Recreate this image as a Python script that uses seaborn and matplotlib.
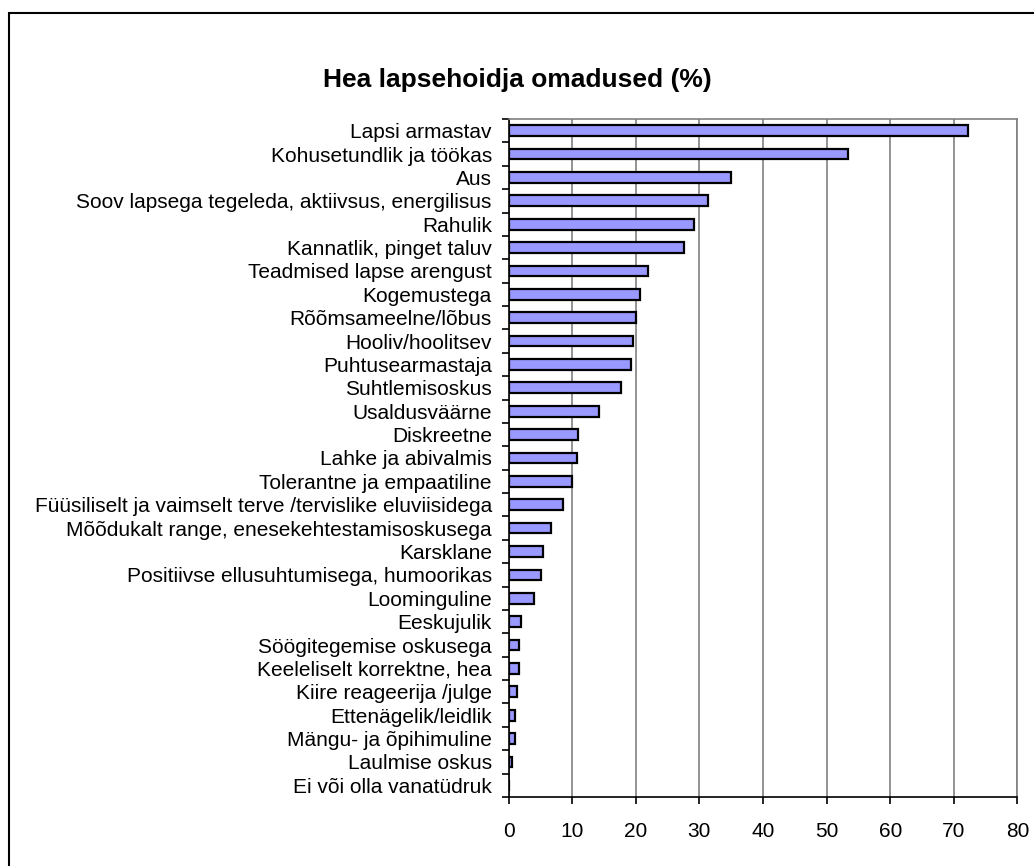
"""
Hea lapsehoidja omadused (%) - horizontal bar chart
"""
import numpy as np
import pandas as pd
import matplotlib
matplotlib.use("Agg")
import matplotlib.pyplot as plt
from matplotlib.patches import Rectangle
from matplotlib.ticker import FixedLocator
import seaborn as sns

TITLE = "Hea lapsehoidja omadused (%)"

categories = [
    "Lapsi armastav",
    "Kohusetundlik ja töökas",
    "Aus",
    "Soov lapsega tegeleda, aktiivsus, energilisus",
    "Rahulik",
    "Kannatlik, pinget taluv",
    "Teadmised lapse arengust",
    "Kogemustega",
    "Rõõmsameelne/lõbus",
    "Hooliv/hoolitsev",
    "Puhtusearmastaja",
    "Suhtlemisoskus",
    "Usaldusväärne",
    "Diskreetne",
    "Lahke ja abivalmis",
    "Tolerantne ja empaatiline",
    "Füüsiliselt ja vaimselt terve /tervislike eluviisidega",
    "Mõõdukalt range, enesekehtestamisoskusega",
    "Karsklane",
    "Positiivse ellusuhtumisega, humoorikas",
    "Loominguline",
    "Eeskujulik",
    "Söögitegemise oskusega",
    "Keeleliselt korrektne, hea",
    "Kiire reageerija /julge",
    "Ettenägelik/leidlik",
    "Mängu- ja õpihimuline",
    "Laulmise oskus",
    "Ei või olla vanatüdruk",
]
percent = [
    72.2, 53.4, 34.9, 31.4, 29.2, 27.6, 22.0, 20.7, 20.1, 19.6,
    19.3, 17.7, 14.3, 11.0, 10.7, 9.9, 8.6, 6.7, 5.4, 5.1,
    4.0, 1.9, 1.6, 1.6, 1.3, 1.0, 1.0, 0.5, 0.0,
]
x_ticks = [0, 10, 20, 30, 40, 50, 60, 70, 80]

df = pd.DataFrame({"Omadus": categories, "Protsent": percent})

sns.set_style("white")
plt.rcParams["font.family"] = ["Liberation Sans", "DejaVu Sans"]
plt.rcParams["text.color"] = "black"
plt.rcParams["xtick.color"] = "black"
plt.rcParams["ytick.color"] = "black"

fig = plt.figure(figsize=(10.34, 8.66), dpi=100)
ax = fig.add_axes([0.4918, 0.0797, 0.984 - 0.4918, 0.8626 - 0.0797])

sns.barplot(data=df, x="Protsent", y="Omadus", orient="h", ax=ax,
            color="#9999FF", saturation=1, width=0.46,
            edgecolor="black", linewidth=1.6)

n = len(categories)
ax.set_xlim(0, 80)
ax.set_ylim(n - 0.5, -0.5)
ax.set_xlabel("")
ax.set_ylabel("")

# vertical gridlines
ax.xaxis.set_major_locator(FixedLocator(x_ticks))
ax.grid(axis="x", color="#808080", lw=1.2)
ax.set_axisbelow(True)

# excel-style ticks between categories, labels at centres
ax.yaxis.set_major_locator(FixedLocator(np.arange(n + 1) - 0.5))
ax.yaxis.set_minor_locator(FixedLocator(np.arange(n)))
ax.set_yticklabels([], minor=False)
ax.set_yticklabels(categories, minor=True)
ax.tick_params(axis="y", which="major", left=True, length=5, width=1.2, color="black")
ax.tick_params(axis="y", which="minor", left=True, length=0, pad=12, labelsize=15,
               labelcolor="black")
ax.tick_params(axis="x", which="major", bottom=True, length=5, width=1.2,
               color="black", pad=13, labelsize=15, labelcolor="black")

for side in ["top", "right"]:
    ax.spines[side].set_color("#808080")
    ax.spines[side].set_linewidth(1.2)
for side in ["left", "bottom"]:
    ax.spines[side].set_color("black")
    ax.spines[side].set_linewidth(1.2)

fig.text(0.5, 1 - 80 / 866, TITLE, ha="center", va="center",
         fontsize=19, fontweight="bold", color="black")

# outer chart border
fig.add_artist(Rectangle((8.5 / 1034, -0.2), 1.5, 1 - 13 / 866 + 0.2,
                         transform=fig.transFigure, fill=False,
                         edgecolor="black", lw=1.5))

fig.savefig("out.png", dpi=100)
plt.close(fig)
